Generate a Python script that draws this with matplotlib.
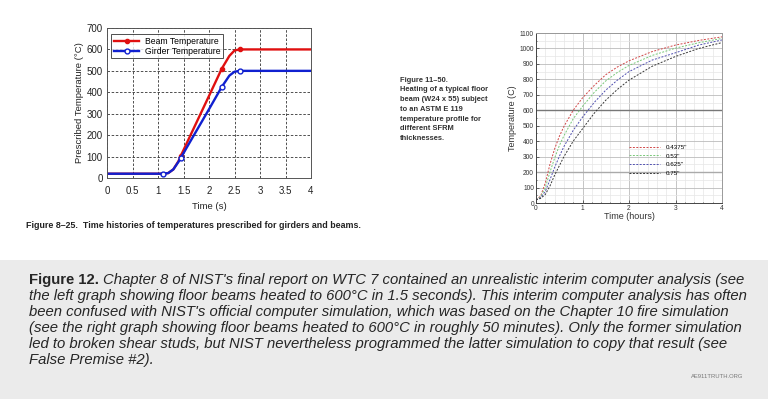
import numpy as np
import matplotlib
matplotlib.use('Agg')
import matplotlib.pyplot as plt
from matplotlib.patches import Rectangle

# left chart: prescribed temperatures (Figure 8-25)
time_s = [0, 1.1, 1.2, 1.3, 1.4, 1.45, 1.6, 1.8, 2.0, 2.25, 2.4, 2.5, 2.6, 4]
beam_temp = [20, 20, 23, 40, 78, 105, 181, 282, 383, 510, 570, 595, 600, 600]
girder_temp = [20, 20, 23, 40, 75, 95, 157, 239, 321, 425, 478, 496, 500, 500]
beam_marks = [5, 9, 12]
girder_marks = [1, 5, 9, 12]

# right chart: heating of floor beam (Figure 11-50)
time_h = [0, 0.1, 0.2, 0.3, 0.4, 0.5, 0.6, 0.8, 1.0, 1.25, 1.5, 1.75, 2.0, 2.5, 3.0, 3.5, 4.0]
t_04375 = [20, 45, 130, 250, 350, 430, 495, 600, 680, 760, 830, 880, 920, 980, 1022, 1052, 1075]
t_053 = [20, 40, 100, 200, 290, 370, 435, 545, 625, 715, 790, 845, 890, 955, 1002, 1037, 1065]
t_0625 = [20, 35, 75, 150, 230, 300, 365, 470, 555, 650, 730, 795, 850, 925, 972, 1022, 1055]
t_075 = [20, 30, 55, 110, 180, 240, 300, 400, 480, 580, 665, 735, 795, 885, 948, 1000, 1038]
thick_labels = ['0.4375"', '0.53"', '0.625"', '0.75"']
thick_colors = ['#d04848', '#78c878', '#5050b0', '#383838']

caption_lines = [
    "Chapter 8 of NIST's final report on WTC 7 contained an unrealistic interim computer analysis (see",
    "the left graph showing floor beams heated to 600°C in 1.5 seconds). This interim computer analysis has often",
    "been confused with NIST's official computer simulation, which was based on the Chapter 10 fire simulation",
    "(see the right graph showing floor beams heated to 600°C in roughly 50 minutes). Only the former simulation",
    "led to broken shear studs, but NIST nevertheless programmed the latter simulation to copy that result (see",
    "False Premise #2).",
]
fig1150_lines = ["Figure 11\u201350.", "Heating of a typical floor", "beam (W24 x 55) subject",
                 "to an ASTM E 119", "temperature profile for", "different SFRM", "thicknesses."]

W, H = 768, 399
plt.rcParams['font.family'] = ['Liberation Sans', 'DejaVu Sans']
fig = plt.figure(figsize=(W / 100, H / 100), dpi=100)

def px(x0, y0, x1, y1):
    return [x0 / W, 1 - y1 / H, (x1 - x0) / W, (y1 - y0) / H]

# ---- left chart
ax = fig.add_axes(px(107, 28, 311, 178))
ax.plot(time_s, beam_temp, color='#e01010', lw=1.7, marker='o', ms=3,
        markevery=beam_marks, mfc='#e01010', mec='#e01010', label='Beam Temperature')
ax.plot(time_s, girder_temp, color='#1020d0', lw=1.7, marker='o', ms=3.5,
        markevery=girder_marks, mfc='white', mec='#1020d0', label='Girder Temperature')
ax.set_xlim(0, 4)
ax.set_ylim(0, 700)
ax.set_xticks(np.arange(0, 4.01, 0.5))
ax.set_xticklabels(['0', '0.5', '1', '1.5', '2', '2.5', '3', '3.5', '4'])
ax.set_yticks(np.arange(0, 701, 100))
ax.grid(True, ls=(0, (3, 2)), color='#333333', lw=0.6)
ax.tick_params(labelsize=7, length=0, pad=3, colors='#222222')
ax.tick_params(axis='x', pad=6)
ax.set_xlabel('Time (s)', fontsize=6.8, labelpad=4, color='#222222')
ax.set_ylabel('Prescribed Temperature (°C)', fontsize=6.8, labelpad=2, color='#222222')
for s in ax.spines.values():
    s.set_color('#555555')
    s.set_linewidth(0.7)
leg = ax.legend(loc='upper left', bbox_to_anchor=(0.02, 0.96), fontsize=6.2,
                frameon=True, fancybox=False, edgecolor='#222222', handlelength=3.0,
                borderpad=0.3, labelspacing=0.15, handletextpad=0.6, borderaxespad=0)
leg.get_frame().set_linewidth(0.7)

fig.text(26 / W, 1 - 225 / H,
         'Figure 8\u201325.  Time histories of temperatures prescribed for girders and beams.',
         fontsize=6.4, fontweight='bold', color='#222222', va='center')

# ---- caption for right chart
for i, line in enumerate(fig1150_lines):
    fig.text(400 / W, 1 - (80 + i * 9.8) / H, line, fontsize=5.4, fontweight='bold',
             color='#333333', va='center')

# ---- right chart
ax2 = fig.add_axes(px(536, 33, 722, 203))
series = [t_04375, t_053, t_0625, t_075]
for vals, lab, col in zip(series, thick_labels, thick_colors):
    ax2.plot(time_h, vals, color=col, lw=0.7, ls=(0, (2, 1.5)), label=lab)
ax2.set_xlim(0, 4)
ax2.set_ylim(0, 1100)
ax2.set_xticks([0, 1, 2, 3, 4])
ax2.set_yticks(np.arange(0, 1101, 100))
ax2.set_xticks(np.arange(0, 4.01, 0.2), minor=True)
ax2.set_yticks(np.arange(0, 1101, 50), minor=True)
ax2.grid(True, which='minor', color='#e6e6e6', lw=0.5)
ax2.grid(True, which='major', color='#bbbbbb', lw=0.6)
ax2.axhline(600, color='#777777', lw=1.0, zorder=1)
ax2.axhline(200, color='#aaaaaa', lw=1.0, zorder=1)
ax2.set_axisbelow(True)
ax2.tick_params(labelsize=4.8, length=2, width=0.5, pad=1.5, colors='#333333', direction='in')
ax2.tick_params(which='minor', length=1, width=0.4, direction='in')
ax2.set_xlabel('Time (hours)', fontsize=6.5, labelpad=0, color='#333333')
ax2.set_ylabel('Temperature (C)', fontsize=6.5, labelpad=2, color='#333333')
for s in ax2.spines.values():
    s.set_color('#999999')
    s.set_linewidth(0.7)
ax2.spines['left'].set_color('#444444')
ax2.spines['bottom'].set_color('#444444')
ax2.legend(loc='upper left', bbox_to_anchor=(0.5, 0.345), fontsize=4.5, frameon=False,
           handlelength=5, labelspacing=0.55, handletextpad=0.8, borderaxespad=0, borderpad=0)

# ---- bottom grey panel with figure caption
fig.patches.append(Rectangle((0, 0), 1, 1 - 260 / H, transform=fig.transFigure,
                             facecolor='#ebebeb', edgecolor='none', zorder=0))
y0, dy = 280, 16
x_left, x_right = 29, 745
r = fig.canvas.get_renderer()
t0 = fig.text(x_left / W, 1 - y0 / H, 'Figure 12.', fontsize=11,
              fontweight='bold', color='#262626', va='center')
t1 = fig.text(0, 1 - y0 / H, caption_lines[0], fontsize=11,
              style='italic', color='#262626', va='center')
w0 = t0.get_window_extent(r).width
w1 = t1.get_window_extent(r).width
fs = 11 * (x_right - x_left - 4) / (w0 + w1)
t0.set_fontsize(fs)
t1.set_fontsize(fs)
w0 = t0.get_window_extent(r).width
t1.set_x((x_left + w0 + 4) / W)
for i, line in enumerate(caption_lines[1:], start=1):
    fig.text(x_left / W, 1 - (y0 + i * dy) / H, line, fontsize=fs,
             style='italic', color='#262626', va='center')
fig.text(743 / W, 1 - 376 / H, 'AE911TRUTH.ORG', fontsize=4.2, color='#777777',
         ha='right', va='center')

fig.savefig('out.png', dpi=100)
